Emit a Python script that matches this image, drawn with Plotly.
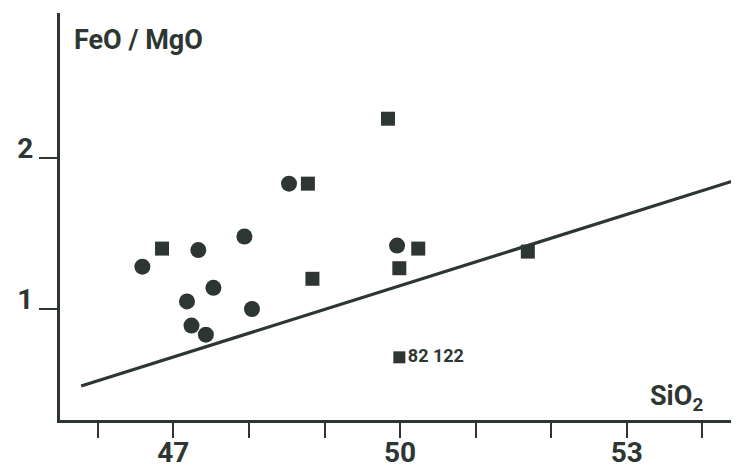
import plotly.graph_objects as go

# Circles (SiO2, FeO/MgO)
circle_sio2 = [46.59, 47.33, 47.94, 47.18, 47.53, 47.24, 47.43, 48.04, 48.53, 49.96]
circle_ratio = [1.28, 1.39, 1.48, 1.05, 1.14, 0.89, 0.83, 1.00, 1.83, 1.42]

# Squares
square_sio2 = [46.85, 48.78, 49.84, 48.84, 50.24, 49.99, 51.69]
square_ratio = [1.40, 1.83, 2.26, 1.20, 1.40, 1.27, 1.38]

# Labelled sample
label_sio2 = [49.99]
label_ratio = [0.68]
label_text = ["82 122"]

# Dividing line endpoints
line_sio2 = [45.78, 54.59]
line_ratio = [0.49, 1.877]

x_labelled_ticks = [47, 50, 53]
x_all_ticks = [46, 47, 48, 49, 50, 51, 52, 53, 54]
y_tickvals = [1, 2]
y_ticktext = ["1", "2"]

ink = "#2d3632"
font_family = "Roboto, Liberation Sans, sans-serif"

fig = go.Figure()
fig.add_trace(go.Scatter(x=line_sio2, y=line_ratio, mode="lines",
                         line=dict(color=ink, width=3.2), hoverinfo="skip"))
fig.add_trace(go.Scatter(x=circle_sio2, y=circle_ratio, mode="markers",
                         marker=dict(symbol="circle", size=16, color=ink, line=dict(width=0))))
fig.add_trace(go.Scatter(x=square_sio2, y=square_ratio, mode="markers",
                         marker=dict(symbol="square", size=14, color=ink, line=dict(width=0))))
fig.add_trace(go.Scatter(x=label_sio2, y=label_ratio, mode="markers+text",
                         text=label_text, textposition="middle right",
                         textfont=dict(family=font_family, size=18, color=ink, weight="bold"),
                         marker=dict(symbol="square", size=12, color=ink, line=dict(width=0))))

fig.update_layout(
    width=739, height=461,
    margin=dict(l=52, r=0, t=5, b=49, autoexpand=False),
    paper_bgcolor="white", plot_bgcolor="white",
    showlegend=False,
    font=dict(family=font_family, color=ink),
    xaxis=dict(range=[45.5, 54.59], showgrid=False, zeroline=False, automargin=False,
               showline=True, linewidth=3, linecolor=ink,
               ticks="outside", ticklen=15, tickwidth=2, tickcolor=ink,
               tickvals=x_labelled_ticks, ticklabelstandoff=-10,
               minor=dict(tickvals=x_all_ticks, ticks="outside", ticklen=15,
                          tickwidth=2, tickcolor=ink, showgrid=False),
               tickfont=dict(family=font_family, size=28, color=ink, weight="bold")),
    yaxis=dict(range=[0.265, 2.96], showgrid=False, zeroline=False, automargin=False,
               showline=True, linewidth=3, linecolor=ink,
               ticks="outside", ticklen=18, tickwidth=2, tickcolor=ink,
               tickvals=y_tickvals, ticktext=y_ticktext, ticklabelshift=-10,
               tickfont=dict(family=font_family, size=28, color=ink, weight="bold")),
    annotations=[
        dict(text="FeO / MgO", xref="paper", yref="paper", x=0.0175, y=0.934,
             xanchor="left", yanchor="middle", showarrow=False,
             font=dict(family=font_family, size=27, color=ink, weight="bold")),
        dict(text="SiO<sub>2</sub>", xref="paper", yref="paper", x=0.856, y=0.055,
             xanchor="left", yanchor="middle", showarrow=False,
             font=dict(family=font_family, size=27, color=ink, weight="bold")),
    ],
)

fig.write_html("out.html")
